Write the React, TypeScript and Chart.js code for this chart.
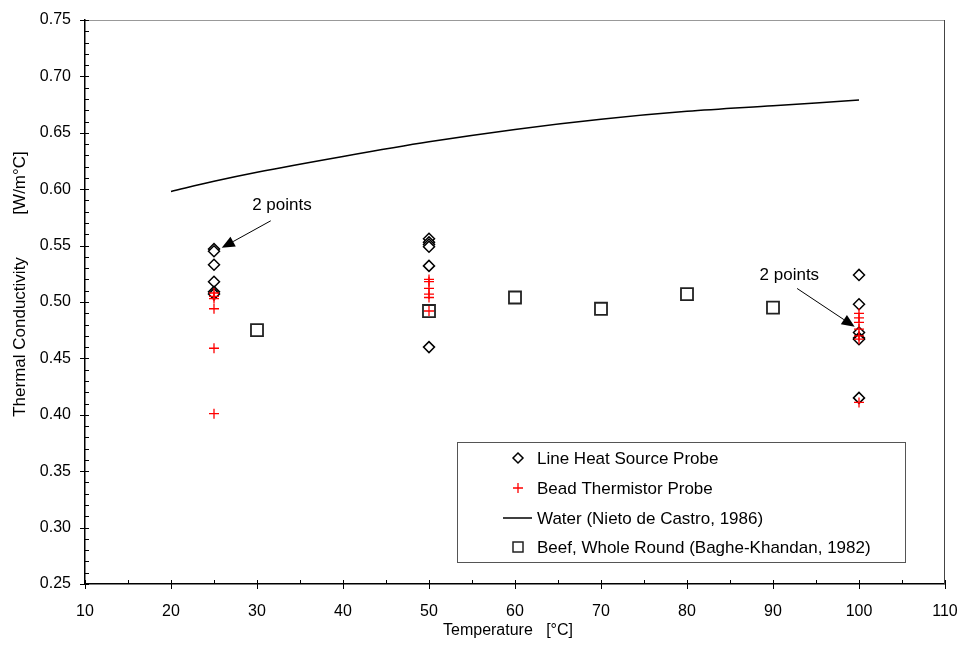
import { useEffect, useRef } from "react";
import { Chart, registerables } from "chart.js";

Chart.register(...registerables);

const FONT = "'Liberation Sans', Arial, Helvetica, sans-serif";

// ---- data ----
const lineHeatTemps = [25, 25, 25, 25, 25, 25, 50, 50, 50, 50, 50, 50, 100, 100, 100, 100, 100, 100];
const lineHeatK = [0.547, 0.545, 0.533, 0.518, 0.509, 0.507, 0.556, 0.553, 0.551, 0.549, 0.532, 0.46, 0.524, 0.498, 0.473, 0.468, 0.467, 0.415];

const beadTemps = [25, 25, 25, 25, 25, 25, 50, 50, 50, 50, 50, 50, 100, 100, 100, 100, 100, 100, 100];
const beadK = [0.508, 0.505, 0.503, 0.494, 0.459, 0.401, 0.52, 0.518, 0.512, 0.507, 0.504, 0.492, 0.49, 0.486, 0.482, 0.476, 0.47, 0.467, 0.411];

const waterTemps = [20, 25, 30, 40, 50, 60, 70, 80, 90, 100];
const waterK = [0.598, 0.607, 0.615, 0.629, 0.642, 0.653, 0.662, 0.669, 0.674, 0.679];

const beefTemps = [30, 50, 60, 70, 80, 90];
const beefK = [0.475, 0.492, 0.504, 0.494, 0.507, 0.495];

const xTicks = [10, 20, 30, 40, 50, 60, 70, 80, 90, 100, 110];
const xMinorTicks = [15, 25, 35, 45, 55, 65, 75, 85, 95, 105];
const yTicks = [0.25, 0.3, 0.35, 0.4, 0.45, 0.5, 0.55, 0.6, 0.65, 0.7, 0.75];
const yMinorTicks = [
  0.26, 0.27, 0.28, 0.29, 0.31, 0.32, 0.33, 0.34, 0.36, 0.37, 0.38, 0.39,
  0.41, 0.42, 0.43, 0.44, 0.46, 0.47, 0.48, 0.49, 0.51, 0.52, 0.53, 0.54,
  0.56, 0.57, 0.58, 0.59, 0.61, 0.62, 0.63, 0.64, 0.66, 0.67, 0.68, 0.69,
  0.71, 0.72, 0.73, 0.74,
];

const legendLabels = [
  "Line Heat Source Probe",
  "Bead Thermistor Probe",
  "Water (Nieto de Castro, 1986)",
  "Beef, Whole Round (Baghe-Khandan, 1982)",
];

const xTitle = "Temperature   [°C]";
const yTitle = "Thermal Conductivity         [W/m°C]";

// annotations: label position, arrow tail, arrow tip (data units)
const noteText = ["2 points", "2 points"];
const noteLabelX = [32.9, 91.9];
const noteLabelY = [0.586, 0.524];
const noteTailX = [31.6, 92.8];
const noteTailY = [0.572, 0.512];
const noteTipX = [25.9, 99.5];
const noteTipY = [0.548, 0.478];

const zip = (xs: number[], ys: number[]) => xs.map((x, i) => ({ x, y: ys[i] }));

function drawArrow(ctx: CanvasRenderingContext2D, x1: number, y1: number, x2: number, y2: number) {
  const ang = Math.atan2(y2 - y1, x2 - x1);
  const L = 13;
  const W = 5.5;
  const bx = x2 - L * Math.cos(ang);
  const by = y2 - L * Math.sin(ang);
  ctx.beginPath();
  ctx.moveTo(x1, y1);
  ctx.lineTo(bx, by);
  ctx.stroke();
  ctx.beginPath();
  ctx.moveTo(x2, y2);
  ctx.lineTo(bx - W * Math.sin(ang), by + W * Math.cos(ang));
  ctx.lineTo(bx + W * Math.sin(ang), by - W * Math.cos(ang));
  ctx.closePath();
  ctx.fill();
}

const decorPlugin = {
  id: "decor",
  beforeDatasetsDraw(chart: any) {
    const { ctx, chartArea: a, scales } = chart;
    const x = scales.x;
    const y = scales.y;
    ctx.save();
    ctx.lineWidth = 1;
    // top / right frame
    ctx.strokeStyle = "#999";
    ctx.beginPath();
    ctx.moveTo(a.left, a.top + 0.5);
    ctx.lineTo(a.right, a.top + 0.5);
    ctx.stroke();
    ctx.strokeStyle = "#444";
    ctx.beginPath();
    ctx.moveTo(a.right - 0.5, a.top);
    ctx.lineTo(a.right - 0.5, a.bottom);
    ctx.stroke();
    // ticks
    ctx.strokeStyle = "#000";
    for (const v of yTicks) {
      const py = Math.round(y.getPixelForValue(v)) + 0.5;
      ctx.beginPath();
      ctx.moveTo(a.left - 5, py);
      ctx.lineTo(a.left + 4, py);
      ctx.stroke();
    }
    for (const v of yMinorTicks) {
      const py = Math.round(y.getPixelForValue(v)) + 0.5;
      ctx.beginPath();
      ctx.moveTo(a.left, py);
      ctx.lineTo(a.left + 4, py);
      ctx.stroke();
    }
    for (const v of xTicks) {
      const px = Math.round(x.getPixelForValue(v)) + 0.5;
      ctx.beginPath();
      ctx.moveTo(px, a.bottom - 4);
      ctx.lineTo(px, a.bottom + 5);
      ctx.stroke();
    }
    for (const v of xMinorTicks) {
      const px = Math.round(x.getPixelForValue(v)) + 0.5;
      ctx.beginPath();
      ctx.moveTo(px, a.bottom - 4);
      ctx.lineTo(px, a.bottom);
      ctx.stroke();
    }
    ctx.restore();
  },
  afterDraw(chart: any) {
    const { ctx, chartArea: a, scales } = chart;
    const x = scales.x;
    const y = scales.y;
    ctx.save();
    ctx.fillStyle = "#000";
    ctx.strokeStyle = "#000";
    // axis titles
    ctx.font = `16px ${FONT}`;
    ctx.textAlign = "center";
    ctx.textBaseline = "middle";
    ctx.fillText(xTitle, (a.left + a.right) / 2 - 7, a.bottom + 47);
    ctx.save();
    ctx.translate(20, (a.top + a.bottom) / 2 - 18);
    ctx.rotate(-Math.PI / 2);
    ctx.font = `17px ${FONT}`;
    ctx.fillText(yTitle, 0, 0);
    ctx.restore();

    // annotations
    ctx.font = `17px ${FONT}`;
    ctx.lineWidth = 1;
    for (let i = 0; i < noteText.length; i++) {
      ctx.fillText(noteText[i], x.getPixelForValue(noteLabelX[i]), y.getPixelForValue(noteLabelY[i]));
      drawArrow(
        ctx,
        x.getPixelForValue(noteTailX[i]),
        y.getPixelForValue(noteTailY[i]),
        x.getPixelForValue(noteTipX[i]),
        y.getPixelForValue(noteTipY[i])
      );
    }

    // legend
    const lx = Math.round(a.left + 372);
    const ly = Math.round(a.top + 422);
    const lw = 448;
    const lh = 120;
    ctx.fillStyle = "#fff";
    ctx.fillRect(lx, ly, lw, lh);
    ctx.strokeStyle = "#555";
    ctx.lineWidth = 1;
    ctx.strokeRect(lx + 0.5, ly + 0.5, lw, lh);
    const rows = [16, 46, 76, 105];
    const cx = lx + 61;
    ctx.font = `17px ${FONT}`;
    ctx.textAlign = "left";
    ctx.textBaseline = "middle";
    for (let i = 0; i < legendLabels.length; i++) {
      const cy = ly + rows[i];
      ctx.save();
      if (i === 0) {
        ctx.strokeStyle = "#000";
        ctx.lineWidth = 1.5;
        ctx.beginPath();
        ctx.moveTo(cx, cy - 5);
        ctx.lineTo(cx + 5, cy);
        ctx.lineTo(cx, cy + 5);
        ctx.lineTo(cx - 5, cy);
        ctx.closePath();
        ctx.stroke();
      } else if (i === 1) {
        ctx.strokeStyle = "#ff0000";
        ctx.lineWidth = 1.3;
        ctx.beginPath();
        ctx.moveTo(cx - 5, cy);
        ctx.lineTo(cx + 5, cy);
        ctx.moveTo(cx, cy - 5);
        ctx.lineTo(cx, cy + 5);
        ctx.stroke();
      } else if (i === 2) {
        ctx.strokeStyle = "#000";
        ctx.lineWidth = 1.5;
        ctx.beginPath();
        ctx.moveTo(lx + 46, cy);
        ctx.lineTo(lx + 75, cy);
        ctx.stroke();
      } else {
        ctx.strokeStyle = "#222";
        ctx.lineWidth = 1.5;
        ctx.strokeRect(cx - 5, cy - 5, 10, 10);
      }
      ctx.restore();
      ctx.fillStyle = "#000";
      ctx.fillText(legendLabels[i], lx + 80, cy + 1);
    }
    ctx.restore();
  },
};

export default function App() {
  const canvasRef = useRef<HTMLCanvasElement | null>(null);

  useEffect(() => {
    const canvas = canvasRef.current;
    if (!canvas) return;
    const chart = new Chart(canvas, {
      type: "scatter",
      data: {
        datasets: [
          {
            label: legendLabels[1],
            data: zip(beadTemps, beadK),
            pointStyle: "cross",
            pointRadius: 5,
            pointBorderColor: "#ff0000",
            pointBorderWidth: 1.3,
            pointBackgroundColor: "#ff0000",
            showLine: false,
            order: 0,
          },
          {
            label: legendLabels[0],
            data: zip(lineHeatTemps, lineHeatK),
            pointStyle: "rectRot",
            pointRadius: 5.5,
            pointBorderColor: "#000",
            pointBorderWidth: 1.5,
            pointBackgroundColor: "#fff",
            showLine: false,
            order: 1,
          },
          {
            label: legendLabels[2],
            data: zip(waterTemps, waterK),
            showLine: true,
            borderColor: "#000",
            borderWidth: 1.5,
            pointRadius: 0,
            cubicInterpolationMode: "monotone",
            order: 2,
          },
          {
            label: legendLabels[3],
            data: zip(beefTemps, beefK),
            pointStyle: "rect",
            pointRadius: 8.5,
            pointBorderColor: "#222",
            pointBorderWidth: 1.8,
            pointBackgroundColor: "#fff",
            showLine: false,
            order: 3,
          },
        ],
      },
      options: {
        animation: false,
        responsive: false,
        devicePixelRatio: 1,
        layout: { padding: { left: 0, top: 20, right: 13, bottom: 0 } },
        plugins: {
          legend: { display: false },
          tooltip: { enabled: false },
          title: { display: false },
        },
        scales: {
          x: {
            type: "linear",
            min: 10,
            max: 110,
            afterBuildTicks: (scale: any) => {
              scale.ticks = xTicks.map((v) => ({ value: v }));
            },
            afterFit: (scale: any) => {
              scale.height = 65;
              scale.paddingLeft = 0;
              scale.paddingRight = 0;
            },
            grid: { display: false, drawTicks: false },
            border: { display: true, color: "#000", width: 1.5 },
            ticks: {
              color: "#000",
              font: { family: FONT, size: 16 },
              padding: 18,
              maxRotation: 0,
              callback: (v: any) => String(v),
            },
          },
          y: {
            type: "linear",
            min: 0.25,
            max: 0.75,
            afterBuildTicks: (scale: any) => {
              scale.ticks = yTicks.map((v) => ({ value: v }));
            },
            afterFit: (scale: any) => {
              scale.width = 85;
              scale.paddingTop = 0;
              scale.paddingBottom = 0;
            },
            grid: { display: false, drawTicks: false },
            border: { display: true, color: "#000", width: 1.5 },
            ticks: {
              color: "#000",
              font: { family: FONT, size: 16 },
              padding: 14,
              callback: (v: any) => Number(v).toFixed(2),
            },
          },
        },
      },
      plugins: [decorPlugin],
    });
    return () => chart.destroy();
  }, []);

  return (
    <div style={{ position: "fixed", left: 0, top: 0, width: 958, height: 649, background: "#fff" }}>
      <canvas ref={canvasRef} width={958} height={649} style={{ width: 958, height: 649, display: "block" }} />
    </div>
  );
}
